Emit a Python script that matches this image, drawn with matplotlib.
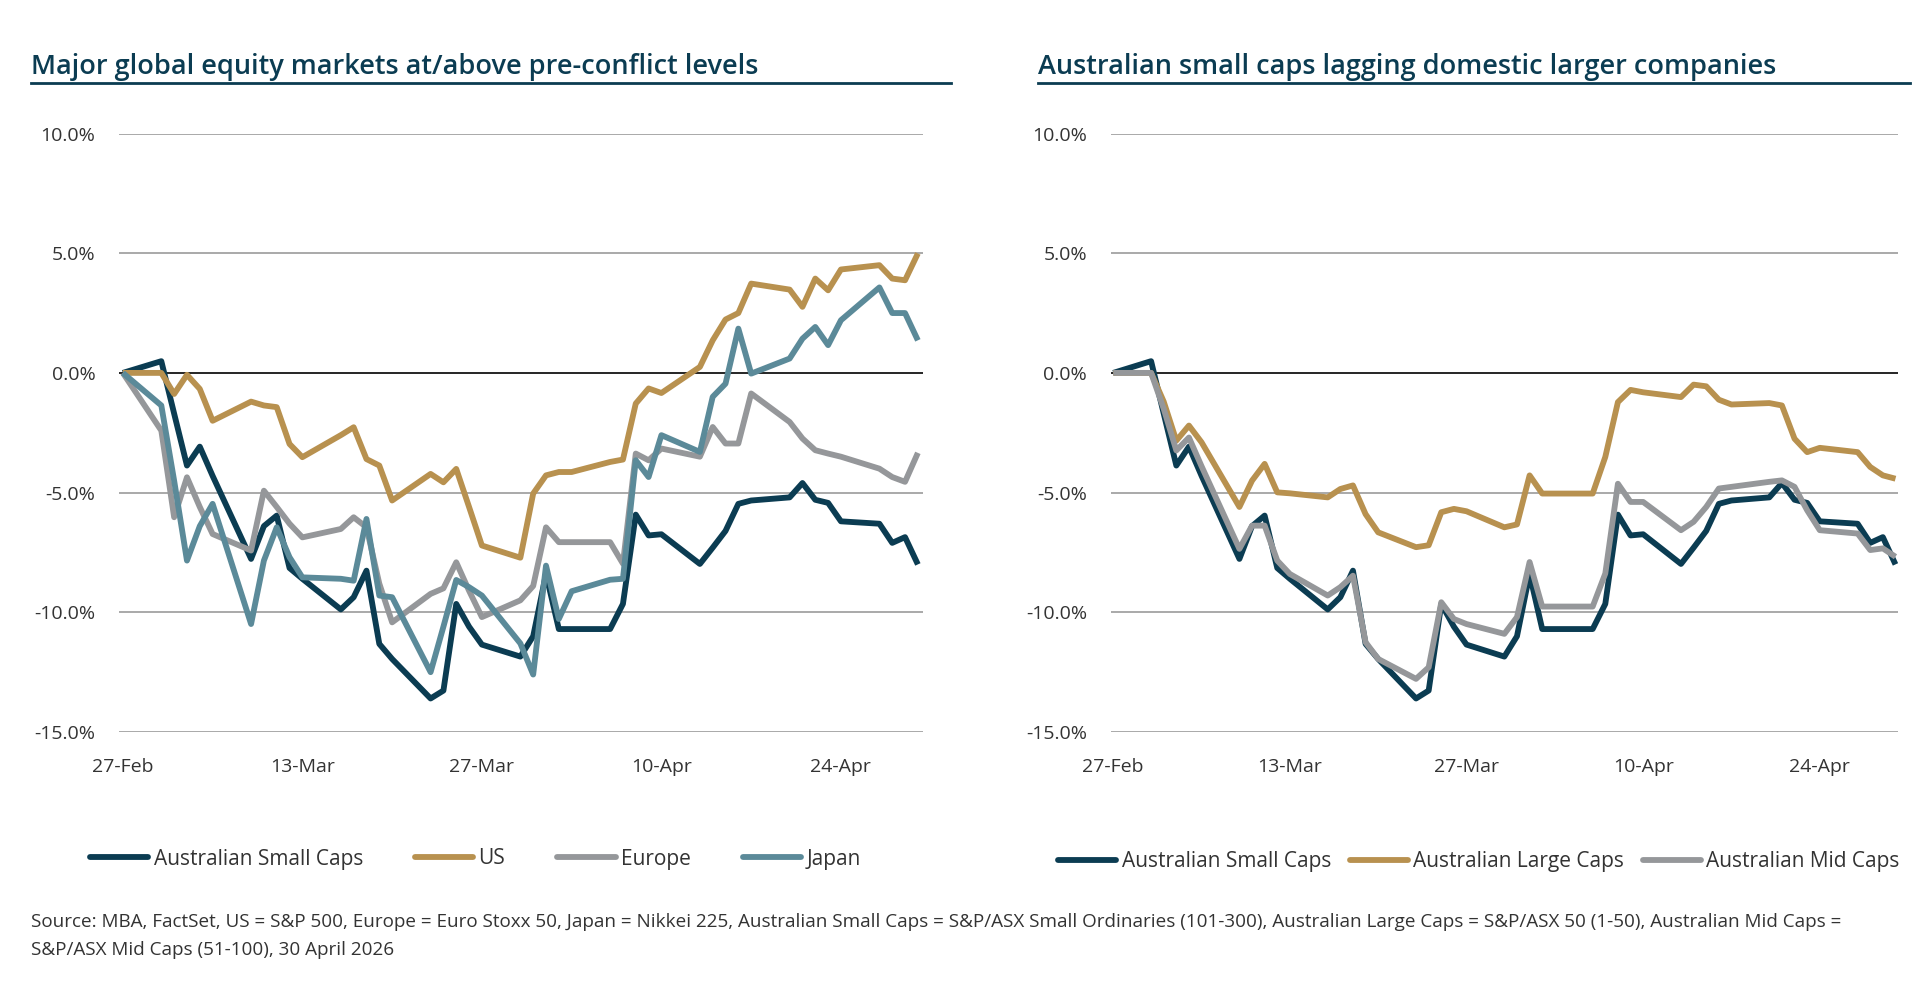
import matplotlib
matplotlib.use('Agg')
import matplotlib.pyplot as plt
import matplotlib.dates as mdates
import pandas as pd
from matplotlib.lines import Line2D

plt.rcParams['font.family'] = ['Open Sans', 'DejaVu Sans']

# ---------------- data ----------------
dates = ['2026-02-27',
         '2026-03-02', '2026-03-03', '2026-03-04', '2026-03-05', '2026-03-06',
         '2026-03-09', '2026-03-10', '2026-03-11', '2026-03-12', '2026-03-13',
         '2026-03-16', '2026-03-17', '2026-03-18', '2026-03-19', '2026-03-20',
         '2026-03-23', '2026-03-24', '2026-03-25', '2026-03-26', '2026-03-27',
         '2026-03-30', '2026-03-31', '2026-04-01', '2026-04-02', '2026-04-03',
         '2026-04-06', '2026-04-07', '2026-04-08', '2026-04-09', '2026-04-10',
         '2026-04-13', '2026-04-14', '2026-04-15', '2026-04-16', '2026-04-17',
         '2026-04-20', '2026-04-21', '2026-04-22', '2026-04-23', '2026-04-24',
         '2026-04-27', '2026-04-28', '2026-04-29', '2026-04-30']

aus_small = [0.0,
             0.49, -1.7, -3.87, -3.08, -4.3,
             -7.77, -6.4, -5.96, -8.15, -8.6,
             -9.88, -9.37, -8.26, -11.32, -11.95,
             -13.6, -13.27, -9.65, -10.6, -11.35,
             -11.85, -11.0, -8.4, -10.7, -10.7,
             -10.7, -9.65, -5.92, -6.79, -6.74,
             -7.98, -7.3, -6.6, -5.47, -5.33,
             -5.2, -4.6, -5.3, -5.43, -6.2,
             -6.3, -7.1, -6.86, -8.0]

us = [0.0,
      0.0, -0.88, -0.08, -0.67, -2.0,
      -1.2, -1.36, -1.43, -2.97, -3.52,
      -2.6, -2.27, -3.6, -3.87, -5.33,
      -4.22, -4.57, -4.01, -5.6, -7.21,
      -7.72, -5.04, -4.28, -4.14, -4.14,
      -3.72, -3.62, -1.28, -0.65, -0.84,
      0.25, 1.36, 2.23, 2.5, 3.73,
      3.48, 2.76, 3.94, 3.45, 4.32,
      4.5, 3.94, 3.87, 4.99]

europe = [0.0,
          -2.41, -6.03, -4.36, -5.6, -6.73,
          -7.42, -4.92, -5.6, -6.3, -6.87,
          -6.52, -6.03, -6.45, -8.8, -10.42,
          -9.23, -9.0, -7.91, -9.1, -10.2,
          -9.5, -8.9, -6.45, -7.07, -7.07,
          -7.07, -7.97, -3.37, -3.65, -3.16,
          -3.5, -2.26, -2.95, -2.95, -0.86,
          -2.05, -2.74, -3.23, -3.37, -3.5,
          -4.0, -4.35, -4.55, -3.34]

japan = [0.0,
         -1.36, -4.5, -7.84, -6.4, -5.47,
         -10.49, -7.84, -6.45, -7.7, -8.54,
         -8.6, -8.68, -6.1, -9.3, -9.37,
         -12.5, -10.6, -8.65, -8.95, -9.3,
         -11.3, -12.6, -8.05, -10.28, -9.12,
         -8.64, -8.6, -3.65, -4.35, -2.6,
         -3.3, -1.0, -0.45, 1.85, -0.03,
         0.6, 1.43, 1.92, 1.16, 2.2,
         3.57, 2.5, 2.5, 1.36]

aus_large = [0.0,
             0.0, -1.2, -2.83, -2.2, -2.9,
             -5.6, -4.5, -3.8, -4.99, -5.03,
             -5.2, -4.85, -4.7, -5.9, -6.66,
             -7.28, -7.2, -5.82, -5.68, -5.78,
             -6.45, -6.33, -4.28, -5.04, -5.04,
             -5.04, -3.51, -1.22, -0.71, -0.81,
             -1.01, -0.49, -0.56, -1.12, -1.32,
             -1.26, -1.36, -2.75, -3.31, -3.13,
             -3.31, -3.93, -4.28, -4.42]

aus_mid = [0.0,
           0.0, -1.5, -3.24, -2.7, -3.9,
           -7.35, -6.38, -6.38, -7.84, -8.4,
           -9.3, -8.95, -8.47, -11.25, -11.95,
           -12.78, -12.3, -9.58, -10.28, -10.49,
           -10.9, -10.2, -7.9, -9.76, -9.76,
           -9.76, -8.38, -4.63, -5.39, -5.39,
           -6.57, -6.22, -5.6, -4.83, -4.76,
           -4.55, -4.49, -4.76, -5.74, -6.57,
           -6.71, -7.4, -7.33, -7.68]

tick_dates = ['2026-02-27', '2026-03-13', '2026-03-27', '2026-04-10', '2026-04-24']
y_ticks = [-15, -10, -5, 0, 5, 10]

left_title = 'Major global equity markets at/above pre-conflict levels'
right_title = 'Australian small caps lagging domestic larger companies'
left_labels = ['Australian Small Caps', 'US', 'Europe', 'Japan']
right_labels = ['Australian Small Caps', 'Australian Large Caps', 'Australian Mid Caps']
footnote1 = ('Source: MBA, FactSet, US = S&P 500, Europe = Euro Stoxx 50, Japan = Nikkei 225, '
             'Australian Small Caps = S&P/ASX Small Ordinaries (101-300), Australian Large Caps = '
             'S&P/ASX 50 (1-50), Australian Mid Caps =')
footnote2 = 'S&P/ASX Mid Caps (51-100), 30 April 2026'

# ---------------- style ----------------
C_NAVY = '#0b3c52'
C_GOLD = '#b8914f'
C_GREY = '#95979a'
C_TEAL = '#5b8a99'
C_TEXT = '#333333'
LW = 4.2

W, H = 1920, 1008
fig = plt.figure(figsize=(W / 100, H / 100), dpi=100)
fig.patch.set_facecolor('white')

x = pd.to_datetime(dates)
t0 = pd.Timestamp('2026-02-27')


def fx(px):
    return px / W


def fy(py):
    return 1 - py / H


ax_bottom = fy(732)
ax_h = fy(133.5) - fy(732)
axL = fig.add_axes([fx(119), ax_bottom, fx(923) - fx(119), ax_h])
axR = fig.add_axes([fx(1110.6), ax_bottom, fx(1898) - fx(1110.6), ax_h])


def style_axes(ax, xmin_days, xmax_days):
    ax.set_ylim(-15, 10)
    ax.set_xlim(t0 + pd.Timedelta(days=xmin_days), t0 + pd.Timedelta(days=xmax_days))
    for s in ax.spines.values():
        s.set_visible(False)
    ax.set_yticks(y_ticks)
    ax.set_yticklabels([f'{v:.1f}%' for v in y_ticks])
    ax.set_xticks(pd.to_datetime(tick_dates))
    ax.xaxis.set_major_formatter(mdates.DateFormatter('%d-%b'))
    ax.tick_params(axis='both', length=0, labelsize=14, colors=C_TEXT)
    ax.tick_params(axis='y', pad=17)
    ax.tick_params(axis='x', pad=18.5)
    for v in y_ticks:
        if v == 0:
            ax.axhline(v, color='black', lw=1.2, zorder=1)
        else:
            ax.axhline(v, color='#a9a9a9', lw=1.4, zorder=1)


style_axes(axL, -0.3, 62.4)
style_axes(axR, -0.21, 62.2)

line_kw = dict(lw=LW, solid_joinstyle='round', solid_capstyle='butt', zorder=3)
axL.plot(x, aus_small, color=C_NAVY, **line_kw)
axL.plot(x, us, color=C_GOLD, **line_kw)
axL.plot(x, europe, color=C_GREY, **line_kw)
axL.plot(x, japan, color=C_TEAL, **line_kw)

axR.plot(x, aus_small, color=C_NAVY, **line_kw)
axR.plot(x, aus_large, color=C_GOLD, **line_kw)
axR.plot(x, aus_mid, color=C_GREY, **line_kw)

# titles with underline
for tx, x0, x1, txt in [(31, 31, 951, left_title), (1038, 1038, 1910, right_title)]:
    fig.text(fx(tx), fy(67), txt, fontsize=19.5, fontweight='semibold', color=C_NAVY,
             ha='left', va='center')
    fig.add_artist(Line2D([fx(x0), fx(x1)], [fy(83), fy(83)], color=C_NAVY, lw=2.0,
                          transform=fig.transFigure))


# legends
def handles(colors):
    return [Line2D([], [], color=c, lw=LW, solid_capstyle='round') for c in colors]


fig.legend(handles([C_NAVY, C_GOLD, C_GREY, C_TEAL]), left_labels,
           loc='center left', bbox_to_anchor=(fx(90), fy(859)), ncol=4, frameon=False,
           fontsize=15, handlelength=2.8, handletextpad=0.25, columnspacing=2.5,
           borderpad=0, borderaxespad=0, labelcolor=C_TEXT)
fig.legend(handles([C_NAVY, C_GOLD, C_GREY]), right_labels,
           loc='center left', bbox_to_anchor=(fx(1058), fy(862)), ncol=3, frameon=False,
           fontsize=15, handlelength=2.8, handletextpad=0.25, columnspacing=0.9,
           borderpad=0, borderaxespad=0, labelcolor=C_TEXT)

# footnote
fig.text(fx(31), fy(922), footnote1, fontsize=13.6, color=C_TEXT, ha='left', va='center')
fig.text(fx(31), fy(950), footnote2, fontsize=13.6, color=C_TEXT, ha='left', va='center')

fig.savefig('out.png', dpi=100, facecolor='white')
